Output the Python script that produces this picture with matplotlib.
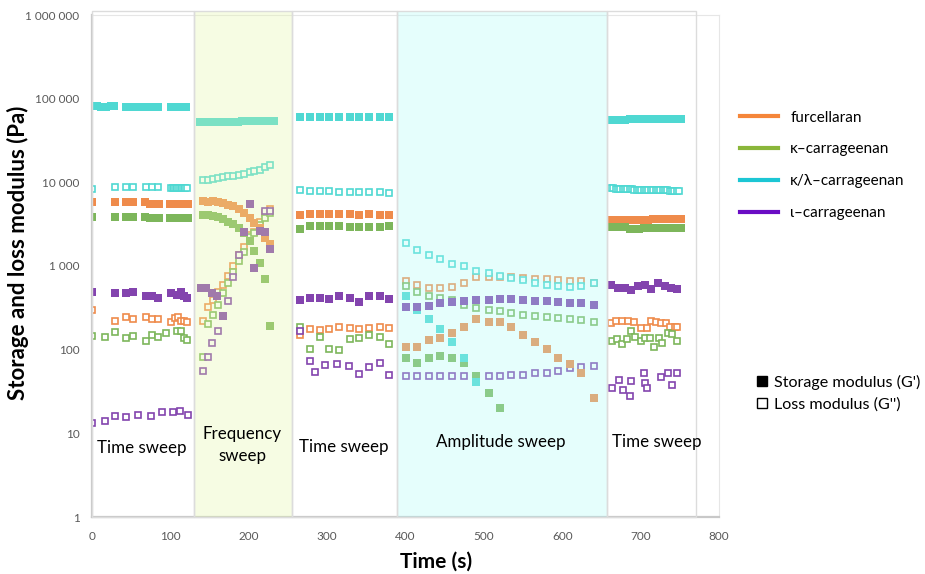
import matplotlib
matplotlib.use('Agg')
import matplotlib.pyplot as plt
import matplotlib.transforms as mtransforms
from matplotlib.patches import Rectangle
from matplotlib.lines import Line2D
from matplotlib.ticker import NullLocator

plt.rcParams['font.family'] = ['Lato', 'DejaVu Sans']

# time grids (s) shared by several series
t_freq = [141, 148, 154, 161, 167, 173, 180, 187, 194, 201, 207, 214, 221, 227]
t_ts2 = [266, 278, 291, 303, 315, 329, 341, 353, 367, 379]
t_amp = [400, 415, 430, 444, 459, 475, 490, 506, 521, 535, 550, 565, 580, 595, 610, 624, 640]
t_ts3 = [662, 668, 674, 680, 686, 692, 698, 704, 710, 716, 722, 728, 734, 740, 746, 752]

# furcellaran
fur_gp_t = [0, 29, 44, 52, 68, 74, 80, 86, 100, 106, 112, 118, 122] + t_freq + t_ts2 + t_amp + t_ts3
fur_gp = [5750, 5750, 5750, 5750, 5750, 5540, 5540, 5540, 5540, 5540, 5540, 5540, 5540,
          5910, 5810, 5910, 5750, 5650, 5400, 5150, 4800, 4300, 3740, 3260, 2840, 2160, 1840,
          4020, 4210, 4210, 4210, 4210, 4210, 4100, 4210, 4100, 4100,
          109, 109, 131, 137, 157, 189, 232, 213, 213, 189, 150, 122, 101, 80.5, 67, 52.4, 26.7,
          3500, 3500, 3500, 3500, 3500, 3500, 3500, 3500, 3500, 3640, 3640, 3640, 3640, 3640, 3640, 3640]
fur_gpp_t = ([0, 29, 44, 52, 69, 76, 84, 101, 106, 110, 114, 118, 121] + t_freq + t_ts2 + t_amp
             + [662, 669, 676, 684, 691, 700, 708, 713, 720, 726, 732, 738, 744, 747])
fur_gpp = [294, 223, 245, 232, 245, 232, 232, 213, 238, 245, 223, 223, 213,
           221, 328, 394, 495, 596, 763, 1005, 1360, 1680, 2360, 2520, 3400, 4300, 4800,
           150, 177, 173, 177, 189, 184, 177, 181, 189, 184,
           653, 596, 544, 544, 559, 635, 749, 749, 735, 735, 717, 697, 697, 671, 653, 653, 635,
           207, 223, 223, 223, 217, 184, 184, 223, 217, 207, 207, 189, 189, 189]

# kappa-carrageenan
kap_gp_t = [0, 29, 44, 52, 68, 74, 80, 86, 100, 106, 112, 118, 122] + t_freq + t_ts2 + t_amp[:9] + t_ts3
kap_gp = [3845, 3845, 3845, 3845, 3845, 3700, 3700, 3700, 3700, 3700, 3700, 3700, 3700,
          4020, 4020, 3980, 3845, 3670, 3400, 3170, 2840, 2470, 2000, 1530, 1084, 697, 194,
          2760, 2970, 2970, 2970, 2970, 2890, 2890, 2890, 2890, 2970,
          80.5, 69, 79, 83, 80.5, 70, 49, 30.7, 20.3,
          2890, 2890, 2890, 2890, 2760, 2760, 2760, 2840, 2840, 2840, 2840, 2840, 2840, 2840, 2840, 2840]
kap_gpp_t = ([0, 17, 29, 44, 52, 69, 76, 84, 95, 108, 114, 118, 121] + t_freq + t_ts2 + t_amp
             + [663, 670, 676, 682, 688, 693, 700, 706, 712, 717, 724, 727, 735, 740, 747])
kap_gpp = [147, 143, 162, 137, 146, 128, 150, 140, 157, 169, 165, 137, 131,
           81, 202, 261, 343, 474, 635, 859, 1132, 1490, 2250, 2480, 3110, 3740, 4300,
           189, 101, 141, 101, 99.5, 134, 137, 150, 141, 117,
           580, 495, 440, 413, 394, 343, 319, 299, 286, 278, 261, 254, 245, 238, 232, 227, 217,
           128, 134, 117, 134, 165, 143, 128, 137, 137, 109, 137, 120, 157, 155, 128]

# kappa/lambda-carrageenan
kl_gp_t = ([0, 6, 12, 18, 24, 28, 44, 50, 56, 62, 68, 74, 80, 84, 101, 106, 111, 116, 120]
           + [138, 144, 150, 156, 162, 168, 174, 180, 186, 192, 198, 204, 210, 216, 222, 228, 232]
           + t_ts2 + t_amp[:7] + t_ts3)
kl_gp = [81000, 81000, 80500, 80500, 81000, 81000, 80500, 80500, 80500, 80500, 80500, 80500, 80500, 80500,
         80000, 80000, 80000, 80000, 80000,
         52000, 52000, 52000, 52500, 52500, 52500, 53000, 53000, 53000, 53500, 53500, 53500,
         54000, 54000, 54000, 54000, 54000,
         60400, 59800, 59800, 59800, 59800, 59800, 59800, 59800, 59800, 59800,
         432, 299, 232, 177, 125, 80.5, 41.5,
         55000, 55000, 55000, 55000, 57000, 57000, 57000, 57000, 57000, 57000, 57000, 57000,
         57000, 57000, 57000, 57000]
kl_gpp_t = ([0, 29, 44, 52, 69, 76, 84, 101, 103, 105, 107, 109, 111, 113, 115, 117, 119, 121]
            + t_freq + t_ts2 + t_amp
            + [662, 665, 668, 671, 674, 677, 680, 683, 686, 689, 692, 695, 698, 701, 704, 707, 710,
               713, 716, 719, 722, 725, 728, 731, 734, 737, 740, 743, 746, 749])
kl_gpp = [8380, 8690, 8690, 8690, 8690, 8690, 8690,
          8550, 8550, 8550, 8550, 8550, 8550, 8550, 8550, 8550, 8550, 8550,
          10540, 10540, 11050, 11250, 11460, 11780, 12000, 12330, 12680, 13130, 13760, 14150, 15240, 15950,
          8150, 7940, 7940, 7940, 7650, 7650, 7650, 7650, 7650, 7450,
          1880, 1563, 1362, 1208, 1062, 987, 883, 822, 750, 717, 684, 624, 596, 580, 559, 580, 635,
          8550, 8550, 8380, 8380, 8380, 8380, 8380, 8380, 8380, 8380,
          8150, 8150, 8150, 8150, 8150, 8150, 8150, 8150, 8150, 8150, 8150, 8150, 8150, 8150, 8150,
          7940, 7940, 7940, 7940, 7940]

# iota-carrageenan
iot_gp_t = ([0, 29, 44, 52, 69, 76, 84, 101, 108, 114, 118, 121]
            + [139, 146, 153, 160, 167, 194, 201, 207, 214, 221, 227] + t_ts2 + t_amp
            + [662, 671, 680, 688, 697, 705, 713, 722, 731, 739, 747])
iot_gp = [495, 474, 474, 495, 432, 432, 413, 474, 453, 495, 432, 413,
          544, 544, 474, 432, 254, 2520, 5550, 959, 2590, 2520, 1590,
          387, 413, 413, 402, 432, 420, 376, 432, 432, 402,
          328, 328, 337, 360, 370, 384, 394, 394, 405, 405, 394, 384, 384, 370, 360, 360, 343,
          596, 544, 544, 519, 569, 596, 530, 624, 569, 544, 530]
iot_gpp_t = ([0, 17, 29, 44, 59, 75, 89, 103, 112, 122]
             + [141, 148, 153, 161, 173, 180, 187, 221, 227]
             + [266, 278, 285, 297, 313, 328, 341, 353, 367, 379] + t_amp
             + [663, 673, 677, 687, 688, 704, 705, 708, 726, 735, 740, 747])
iot_gpp = [13.2, 14.2, 16.2, 15.6, 16.6, 16.2, 18.2, 18.2, 18.7, 16.6,
           55.8, 82.7, 120, 169, 384, 749, 1360, 4570, 4490,
           165, 74, 54.7, 65.8, 67.1, 64.5, 51.4, 62.8, 70.1, 50,
           49, 49, 48, 48, 48, 48, 49, 49, 49, 50, 50, 52, 53, 56, 60, 62, 64,
           34.6, 43.5, 33, 28, 42.4, 52.4, 39.7, 34.6, 47.7, 53.2, 37.9, 53.2]

series_names = ['furcellaran', 'κ\u2013carrageenan', 'κ/λ\u2013carrageenan', 'ι\u2013carrageenan']
marker_colors = ['#EF8B4B', '#7DB65B', '#4FD8D2', '#8344AE']
line_colors = ['#F5863A', '#8AB63A', '#1CC6D4', '#6A0CC4']
storage = [(fur_gp_t, fur_gp), (kap_gp_t, kap_gp), (kl_gp_t, kl_gp), (iot_gp_t, iot_gp)]
loss = [(fur_gpp_t, fur_gpp), (kap_gpp_t, kap_gpp), (kl_gpp_t, kl_gpp), (iot_gpp_t, iot_gpp)]

# test phases: start, end, fill, label, label position
phase_bounds = [(0, 130), (130, 255), (255, 389), (389, 657), (657, 771)]
phase_fill = [None, '#F7FDE4', None, '#E6FEFD', None]
phase_names = ['Time sweep', 'Frequency\nsweep', 'Time sweep', 'Amplitude sweep', 'Time sweep']
phase_text_x = [64, 192, 321, 521, 721]
phase_text_y = [6.7, 7.3, 6.9, 7.9, 7.9]

fig = plt.figure(figsize=(9.25, 5.74), dpi=100)
ax = fig.add_axes([92 / 925, 57 / 574, 627 / 925, 502 / 574])
ax.set_yscale('log')
ax.set_xlim(0, 800)
ax.set_ylim(1, 1e6)

for (t, v), c in zip(loss, marker_colors):
    ax.plot(t, v, ls='none', marker='s', ms=4.9, mfc='white', mec=c, mew=1.2, zorder=3)
for (t, v), c in zip(storage, marker_colors):
    ax.plot(t, v, ls='none', marker='s', ms=5.8, color=c, mew=0, zorder=4)

# shaded phase boxes sit on top of the markers, like the semi-transparent shapes in the original
trans = mtransforms.blended_transform_factory(ax.transData, ax.transAxes)
alpha = 0.3
for (x0, x1), fill in zip(phase_bounds, phase_fill):
    if fill is not None:
        rgb = matplotlib.colors.to_rgb(fill)
        base = tuple(max(0, 1 - (1 - ch) / alpha) for ch in rgb)
        ax.add_patch(Rectangle((x0, 0), x1 - x0, 1.008, transform=trans, clip_on=False,
                               facecolor=base, alpha=alpha, edgecolor='none', zorder=5))
    ax.add_patch(Rectangle((x0, 0), x1 - x0, 1.008, transform=trans, clip_on=False,
                           facecolor='none', edgecolor='#DCDCDC', lw=1, zorder=6))

for name, x, y in zip(phase_names, phase_text_x, phase_text_y):
    ax.text(x, y, name, ha='center', va='center', fontsize=12.2, color='black',
            linespacing=1.45, zorder=7)

ax.set_yticks([1, 10, 100, 1e3, 1e4, 1e5, 1e6])
ax.set_yticklabels(['1', '10', '100', '1 000', '10 000', '100 000', '1 000 000'])
ax.yaxis.set_minor_locator(NullLocator())
ax.set_xticks(range(0, 900, 100))
ax.tick_params(length=0, colors='#595959', labelsize=8.5)
ax.tick_params(axis='y', pad=9)
ax.tick_params(axis='x', pad=10)
for s in ['left', 'bottom']:
    ax.spines[s].set_color('#C8C8C8')
    ax.spines[s].set_linewidth(1.6)
for s in ['top', 'right']:
    ax.spines[s].set_color('#E6E6E6')
    ax.spines[s].set_linewidth(0.8)

fig.text(18 / 925, 1 - 253 / 574, 'Storage and loss modulus (Pa)', rotation=90,
         ha='center', va='center', fontsize=16, fontweight='bold')
fig.text(436 / 925, 1 - 562 / 574, 'Time (s)', ha='center', va='center',
         fontsize=15, fontweight='bold')

h1 = [Line2D([], [], color=c, lw=3) for c in line_colors]
fig.legend(h1, series_names, loc='upper left', bbox_to_anchor=(726 / 925, 1 - 97 / 574),
           frameon=False, fontsize=11, handlelength=2.5, handletextpad=0.8, labelspacing=1.16)
h2 = [Line2D([], [], ls='none', marker='s', ms=7, color='black'),
      Line2D([], [], ls='none', marker='s', ms=7, mfc='white', mec='black', mew=1)]
fig.legend(h2, ["Storage modulus (G')", "Loss modulus (G'')"], loc='upper left',
           bbox_to_anchor=(743 / 925, 1 - 360 / 574), frameon=False, fontsize=11.6,
           handlelength=0.6, handletextpad=0.45, labelspacing=0.5)

fig.savefig('out.png', dpi=100)
